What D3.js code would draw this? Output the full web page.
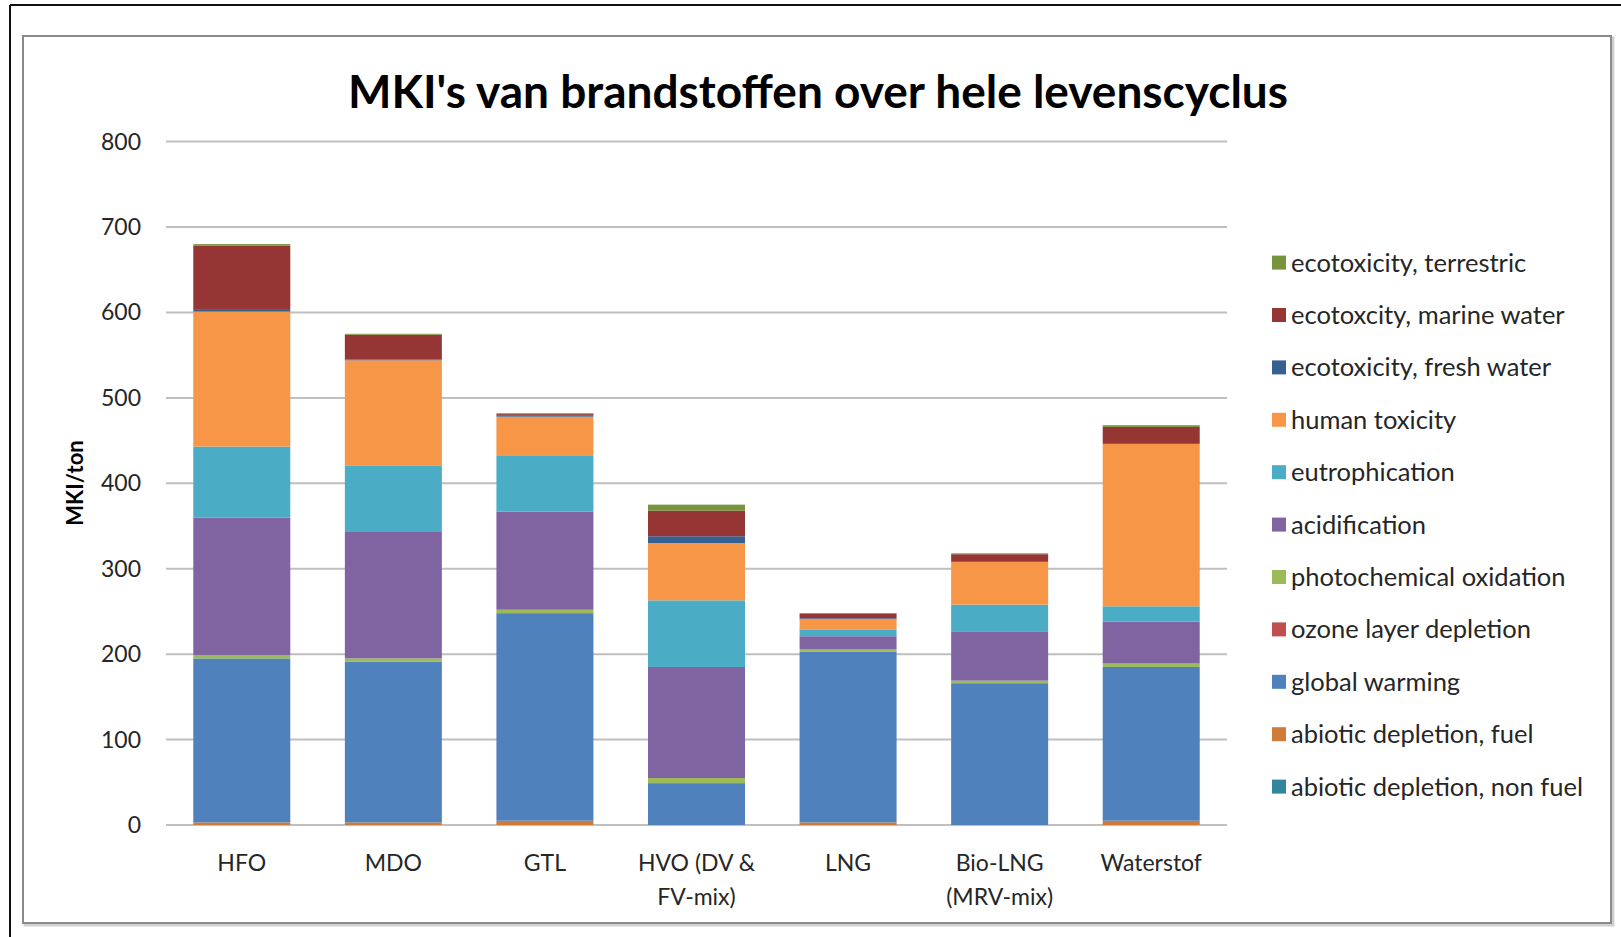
<!DOCTYPE html>
<html>
<head>
<meta charset="utf-8">
<script src="https://cdn.jsdelivr.net/npm/d3@7"></script>
<style>
  body { margin: 0; background: #fff; }
  svg { display: block; }
  text { font-family: Lato, "Open Sans", sans-serif; fill: #262626; }
</style>
</head>
<body>
<div id="chart"></div>
<script>
// Fuels on the x axis (labels split over two lines where the original does)
var fuels = ["HFO", "MDO", "GTL", "HVO", "LNG", "Bio-LNG", "Waterstof"];
var fuelLabels = [["HFO"], ["MDO"], ["GTL"], ["HVO (DV &", "FV-mix)"], ["LNG"], ["Bio-LNG", "(MRV-mix)"], ["Waterstof"]];

// Impact categories, bottom of the stack first
var impacts = [
  "abiotic depletion, non fuel",
  "abiotic depletion, fuel",
  "global warming",
  "ozone layer depletion",
  "photochemical oxidation",
  "acidification",
  "eutrophication",
  "human toxicity",
  "ecotoxicity, fresh water",
  "ecotoxcity, marine water",
  "ecotoxicity, terrestric"
];
var impactColors = ["#31859C", "#D07A38", "#4F81BD", "#C0504D", "#9BBB59", "#8064A2",
                    "#4BACC6", "#F79646", "#376092", "#963634", "#77933C"];

// MKI/ton per impact, one value per fuel (same order as fuels)
var nonFuel   = [0, 0, 0, 0, 0, 0, 0];
var fuelDepl  = [3, 3, 5, 0, 3, 0, 5];
var warming   = [192, 188, 243, 49, 200, 166, 180];
var ozone     = [0, 0, 0, 0, 0, 0, 0];
var photochem = [4, 4, 4, 6, 3, 3, 4];
var acid      = [161, 148, 115, 130, 15, 57, 49];
var eutro     = [83, 78, 65, 78, 8, 32, 18];
var humanTox  = [158, 123, 46, 67, 12, 50, 190];
var freshW    = [2, 1, 1, 8, 1, 1, 1];
var marineW   = [75, 29, 2, 30, 5, 8, 19];
var terrestr  = [2, 1, 1, 7, 1, 1, 2];

var yTicks = [0, 100, 200, 300, 400, 500, 600, 700, 800];

var seriesValues = [nonFuel, fuelDepl, warming, ozone, photochem, acid, eutro, humanTox, freshW, marineW, terrestr];

// build rows for d3.stack
var rows = fuels.map(function(f, i) {
  var r = { fuel: f };
  impacts.forEach(function(k, j) { r[k] = seriesValues[j][i]; });
  return r;
});

var width = 1621, height = 937;
var svg = d3.select("#chart").append("svg")
  .attr("width", width)
  .attr("height", height);

// outer black frame lines (top and left)
svg.append("line").attr("x1", 10).attr("x2", width).attr("y1", 5).attr("y2", 5)
  .attr("stroke", "#111").attr("stroke-width", 2);
svg.append("line").attr("x1", 10).attr("x2", 10).attr("y1", 5).attr("y2", height)
  .attr("stroke", "#111").attr("stroke-width", 2);

// chart box with a little shadow
svg.append("rect").attr("x", 25).attr("y", 38).attr("width", 1588).attr("height", 887)
  .attr("fill", "none").attr("stroke", "#d0d0d0").attr("stroke-width", 3);
svg.append("rect").attr("x", 23).attr("y", 36).attr("width", 1588).attr("height", 887)
  .attr("fill", "#fff").attr("stroke", "#8a8a8a").attr("stroke-width", 2);

// title
svg.append("text")
  .attr("x", 818).attr("y", 108)
  .attr("text-anchor", "middle")
  .style("font-size", "46px")
  .style("font-weight", "bold")
  .style("fill", "#000")
  .text("MKI's van brandstoffen over hele levenscyclus");

var x = d3.scaleBand()
  .domain(fuels)
  .range([166, 1227])
  .paddingInner(0.36)
  .paddingOuter(0.18);

var y = d3.scaleLinear()
  .domain([0, 800])
  .range([825, 141.6]);

// gridlines
svg.append("g").selectAll("line").data(yTicks).enter().append("line")
  .attr("x1", 166).attr("x2", 1227)
  .attr("y1", function(d) { return y(d); })
  .attr("y2", function(d) { return y(d); })
  .attr("stroke", "#bfbfbf").attr("stroke-width", 2);

// y axis tick labels
svg.append("g").selectAll("text").data(yTicks).enter().append("text")
  .attr("x", 141)
  .attr("y", function(d) { return y(d) + 8; })
  .attr("text-anchor", "end")
  .style("font-size", "23px")
  .text(function(d) { return d; });

// y axis title
svg.append("text")
  .attr("transform", "translate(83,483)rotate(-90)")
  .attr("text-anchor", "middle")
  .style("font-size", "22px")
  .style("font-weight", "bold")
  .style("fill", "#000")
  .text("MKI/ton");

// stacked bars
var stacked = d3.stack().keys(impacts)(rows);

svg.append("g").selectAll("g").data(stacked).enter().append("g")
  .attr("fill", function(d, i) { return impactColors[i]; })
  .selectAll("rect").data(function(d) { return d; }).enter().append("rect")
  .attr("x", function(d) { return x(d.data.fuel); })
  .attr("width", x.bandwidth())
  .attr("y", function(d) { return y(d[1]); })
  .attr("height", function(d) { return y(d[0]) - y(d[1]); });

// x labels
var xl = svg.append("g").selectAll("text").data(fuels).enter().append("text")
  .attr("x", function(d) { return x(d) + x.bandwidth() / 2; })
  .attr("y", 871)
  .attr("text-anchor", "middle")
  .style("font-size", "23px");
xl.selectAll("tspan").data(function(d, i) { return fuelLabels[i]; }).enter().append("tspan")
  .attr("x", function() { return d3.select(this.parentNode).attr("x"); })
  .attr("dy", function(d, i) { return i === 0 ? 0 : 34; })
  .text(function(d) { return d; });

// legend, top entry is the top of the stack
var legendItems = impacts.slice().reverse();
var legendColors = impactColors.slice().reverse();
var lg = svg.append("g").selectAll("g").data(legendItems).enter().append("g")
  .attr("transform", function(d, i) { return "translate(1272," + (262.6 + i * 52.4) + ")"; });
lg.append("rect")
  .attr("x", 0).attr("y", -7).attr("width", 14).attr("height", 14)
  .attr("fill", function(d, i) { return legendColors[i]; });
lg.append("text")
  .attr("x", 19).attr("y", 9)
  .style("font-size", "25.5px")
  .text(function(d) { return d; });
</script>
</body>
</html>
